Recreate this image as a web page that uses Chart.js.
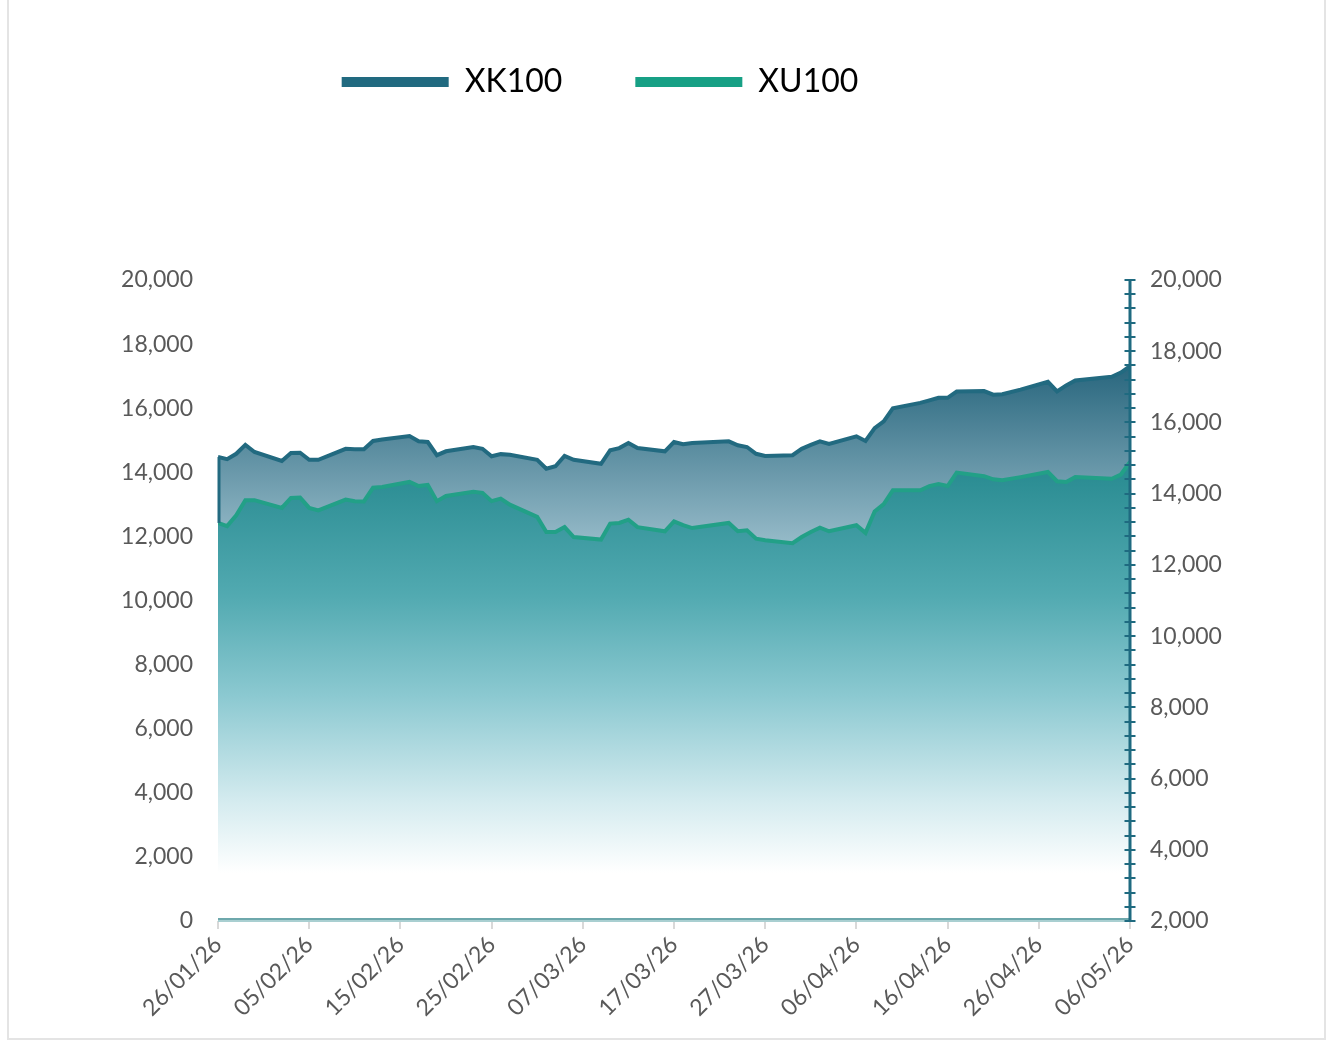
<!DOCTYPE html>
<html>
<head>
<meta charset="utf-8">
<title>XK100 / XU100</title>
<script src="https://cdn.jsdelivr.net/npm/chart.js@4.4.1/dist/chart.umd.min.js"></script>
<style>
    html, body { margin: 0; padding: 0; background: #fff; }
    #wrap { position: relative; width: 1332px; height: 1045px; overflow: hidden; }
    #chart { position: absolute; left: 0; top: 0; }
    #frame {
        position: absolute; left: 7px; top: -2px; width: 1315px; height: 1040px;
        border: 2px solid #e4e4e4; border-top: none; pointer-events: none;
    }
</style>
</head>
<body>
<div id="wrap">
    <canvas id="chart" width="1332" height="1045"></canvas>
    <div id="frame"></div>
</div>
<script>
// Datas (dias úteis)
const dates = [
    '26/01/26', '27/01/26', '28/01/26', '29/01/26', '30/01/26',
    '02/02/26', '03/02/26', '04/02/26', '05/02/26', '06/02/26',
    '09/02/26', '10/02/26', '11/02/26', '12/02/26', '13/02/26',
    '16/02/26', '17/02/26', '18/02/26', '19/02/26', '20/02/26',
    '23/02/26', '24/02/26', '25/02/26', '26/02/26', '27/02/26',
    '02/03/26', '03/03/26', '04/03/26', '05/03/26', '06/03/26',
    '09/03/26', '10/03/26', '11/03/26', '12/03/26', '13/03/26',
    '16/03/26', '17/03/26', '18/03/26', '19/03/26',
    '23/03/26', '24/03/26', '25/03/26', '26/03/26', '27/03/26',
    '30/03/26', '31/03/26', '01/04/26', '02/04/26', '03/04/26',
    '06/04/26', '07/04/26', '08/04/26', '09/04/26', '10/04/26',
    '13/04/26', '14/04/26', '15/04/26', '16/04/26', '17/04/26',
    '20/04/26', '21/04/26', '22/04/26', '24/04/26',
    '27/04/26', '28/04/26', '29/04/26', '30/04/26',
    '04/05/26', '05/05/26', '06/05/26'
];

// XK100 (eixo direito)
const xk100 = [
    15030, 14970, 15120, 15370, 15170,
    14920, 15140, 15150, 14950, 14950,
    15260, 15250, 15250, 15480, 15520,
    15620, 15470, 15450, 15080, 15190,
    15310, 15260, 15050, 15110, 15090,
    14950, 14700, 14770, 15060, 14950,
    14840, 15220, 15280, 15420, 15280,
    15190, 15450, 15390, 15420,
    15470, 15360, 15310, 15120, 15060,
    15080, 15260, 15370, 15470, 15400,
    15610, 15480, 15840, 16030, 16400,
    16550, 16620, 16690, 16690, 16870,
    16880, 16780, 16790, 16920,
    17140, 16870, 17040, 17180,
    17280, 17400, 17580
];

// XU100 (eixo esquerdo)
const xu100 = [
    12420, 12320, 12660, 13130, 13130,
    12890, 13200, 13210, 12890, 12810,
    13150, 13100, 13090, 13520, 13540,
    13700, 13570, 13610, 13100, 13260,
    13390, 13360, 13100, 13180, 12990,
    12610, 12140, 12140, 12290, 11980,
    11900, 12400, 12420, 12520, 12290,
    12160, 12470, 12350, 12260,
    12420, 12160, 12190, 11930, 11880,
    11790, 11980, 12140, 12270, 12160,
    12350, 12110, 12780, 13010, 13440,
    13440, 13570, 13630, 13570, 13990,
    13880, 13780, 13750, 13850,
    14010, 13720, 13700, 13850,
    13800, 13930, 14320
];

const seriesNames = ['XK100', 'XU100'];
const lineColors = ['#226a80', '#22a087'];
const legendColors = ['#216a80', '#17a085'];

// Converte 'dd/mm/yy' em número de dias desde a primeira data
function toDay(str) {
    const [d, m, y] = str.split('/').map(Number);
    return Date.UTC(2000 + y, m - 1, d) / 86400000;
}
const firstDay = toDay(dates[0]);
const lastDay = toDay(dates[dates.length - 1]);

function dayLabel(offset) {
    const dt = new Date((firstDay + offset) * 86400000);
    const dd = String(dt.getUTCDate()).padStart(2, '0');
    const mm = String(dt.getUTCMonth() + 1).padStart(2, '0');
    const yy = String(dt.getUTCFullYear()).slice(2);
    return `${dd}/${mm}/${yy}`;
}

function toPoints(values) {
    return values.map((v, i) => ({ x: toDay(dates[i]) - firstDay, y: v }));
}

// Gradiente da área XK100
function xkGradient(context) {
    const chart = context.chart;
    if (!chart.chartArea || !chart.scales.y2) return 'rgba(34,106,128,0.6)';
    const s = chart.scales.y2;
    const g = chart.ctx.createLinearGradient(0, s.getPixelForValue(18000), 0, s.getPixelForValue(10000));
    g.addColorStop(0, '#1f5f77');
    g.addColorStop(0.67, '#95bac8');
    g.addColorStop(1, '#d8e6ec');
    return g;
}

// Gradiente da área XU100
function xuGradient(context) {
    const chart = context.chart;
    if (!chart.chartArea || !chart.scales.y) return 'rgba(42,140,146,0.6)';
    const s = chart.scales.y;
    const g = chart.ctx.createLinearGradient(0, s.getPixelForValue(14000), 0, s.getPixelForValue(1500));
    g.addColorStop(0, '#2a8c92');
    g.addColorStop(0.31, '#52aab1');
    g.addColorStop(0.56, '#8cc9d1');
    g.addColorStop(0.82, '#d4ebef');
    g.addColorStop(1, '#ffffff');
    return g;
}

// Legenda posicionada como no original + eixos desenhados por cima das áreas
const layoutPlugin = {
    id: 'layoutTweaks',
    beforeLayout(chart) {
        const legend = chart.legend;
        if (legend && !legend._patched) {
            const fit = legend.fit;
            legend.fit = function () {
                fit.call(this);
                this.height = 280;
            };
            legend._patched = true;
        }
    },
    afterLayout(chart) {
        const legend = chart.legend;
        if (!legend) return;
        legend.top -= 7;
        legend.bottom -= 7;
        legend.left -= 66;
        legend.right -= 66;
    },
    afterDatasetsDraw(chart) {
        const ctx = chart.ctx;
        const area = chart.chartArea;
        const y2 = chart.scales.y2;
        const y = chart.scales.y;
        ctx.save();

        // borda esquerda das áreas
        ctx.lineWidth = 3;
        ctx.strokeStyle = lineColors[0];
        ctx.beginPath();
        ctx.moveTo(area.left + 1, y2.getPixelForValue(xk100[0]));
        ctx.lineTo(area.left + 1, y.getPixelForValue(xu100[0]));
        ctx.stroke();

        // linha de base
        ctx.lineWidth = 2;
        ctx.strokeStyle = '#6ea8ac';
        ctx.beginPath();
        ctx.moveTo(area.left, area.bottom - 2);
        ctx.lineTo(area.right, area.bottom - 2);
        ctx.stroke();
        ctx.strokeStyle = '#a9cfd1';
        ctx.beginPath();
        ctx.moveTo(area.left, area.bottom);
        ctx.lineTo(area.right, area.bottom);
        ctx.stroke();

        // eixo direito com marcas cruzadas
        const ax = y2.left;
        ctx.strokeStyle = '#1f6a80';
        ctx.lineWidth = 3;
        ctx.beginPath();
        ctx.moveTo(ax, y2.getPixelForValue(y2.max));
        ctx.lineTo(ax, y2.getPixelForValue(y2.min));
        ctx.stroke();
        ctx.lineWidth = 2;
        for (let v = y2.min; v <= y2.max; v += 400) {
            const py = Math.round(y2.getPixelForValue(v));
            ctx.beginPath();
            ctx.moveTo(ax - 5.5, py);
            ctx.lineTo(ax + 5.5, py);
            ctx.stroke();
        }
        ctx.restore();
    }
};

const tickFont = { family: 'Lato, "Open Sans", sans-serif', size: 23 };
const tickColor = '#595959';

new Chart(document.getElementById('chart'), {
    type: 'line',
    data: {
        datasets: [
            {
                label: seriesNames[0],
                data: toPoints(xk100),
                yAxisID: 'y2',
                borderColor: lineColors[0],
                backgroundColor: xkGradient,
                borderWidth: 4,
                fill: 'origin',
                pointRadius: 0,
                tension: 0,
                order: 2
            },
            {
                label: seriesNames[1],
                data: toPoints(xu100),
                yAxisID: 'y',
                borderColor: lineColors[1],
                backgroundColor: xuGradient,
                borderWidth: 4,
                fill: 'origin',
                pointRadius: 0,
                tension: 0,
                order: 1
            }
        ]
    },
    options: {
        responsive: false,
        devicePixelRatio: 1,
        animation: false,
        layout: { padding: { top: 0, left: 10, right: 10, bottom: 0 } },
        plugins: {
            legend: {
                display: true,
                position: 'top',
                labels: {
                    boxWidth: 107,
                    boxHeight: 10,
                    padding: 73,
                    color: '#000',
                    font: { family: 'Lato, "Open Sans", sans-serif', size: 32 },
                    generateLabels: function (chart) {
                        const items = Chart.defaults.plugins.legend.labels.generateLabels(chart);
                        items.forEach(item => {
                            item.fillStyle = legendColors[item.datasetIndex];
                            item.strokeStyle = legendColors[item.datasetIndex];
                            item.lineWidth = 0;
                        });
                        return items.sort((a, b) => a.datasetIndex - b.datasetIndex);
                    }
                }
            },
            tooltip: { enabled: false }
        },
        scales: {
            x: {
                type: 'linear',
                min: 0,
                max: lastDay - firstDay,
                afterFit: scale => { scale.height = 124; },
                grid: {
                    display: true,
                    drawOnChartArea: false,
                    drawTicks: true,
                    tickLength: 8,
                    color: '#d9d9d9',
                    lineWidth: 2
                },
                border: { display: false },
                ticks: {
                    stepSize: 10,
                    autoSkip: false,
                    minRotation: 45,
                    maxRotation: 45,
                    padding: 2,
                    color: tickColor,
                    font: tickFont,
                    callback: value => dayLabel(value)
                }
            },
            y: {
                position: 'left',
                min: 0,
                max: 20000,
                afterFit: scale => { scale.width = 208; },
                grid: { display: false },
                border: { display: false },
                ticks: {
                    stepSize: 2000,
                    padding: 17,
                    color: tickColor,
                    font: tickFont,
                    callback: value => value.toLocaleString('en-US')
                }
            },
            y2: {
                position: 'right',
                min: 2000,
                max: 20000,
                afterFit: scale => { scale.width = 192; },
                grid: { display: false },
                border: { display: false },
                ticks: {
                    stepSize: 2000,
                    padding: 12,
                    color: tickColor,
                    font: tickFont,
                    callback: value => value.toLocaleString('en-US')
                }
            }
        }
    },
    plugins: [layoutPlugin]
});
</script>
</body>
</html>
